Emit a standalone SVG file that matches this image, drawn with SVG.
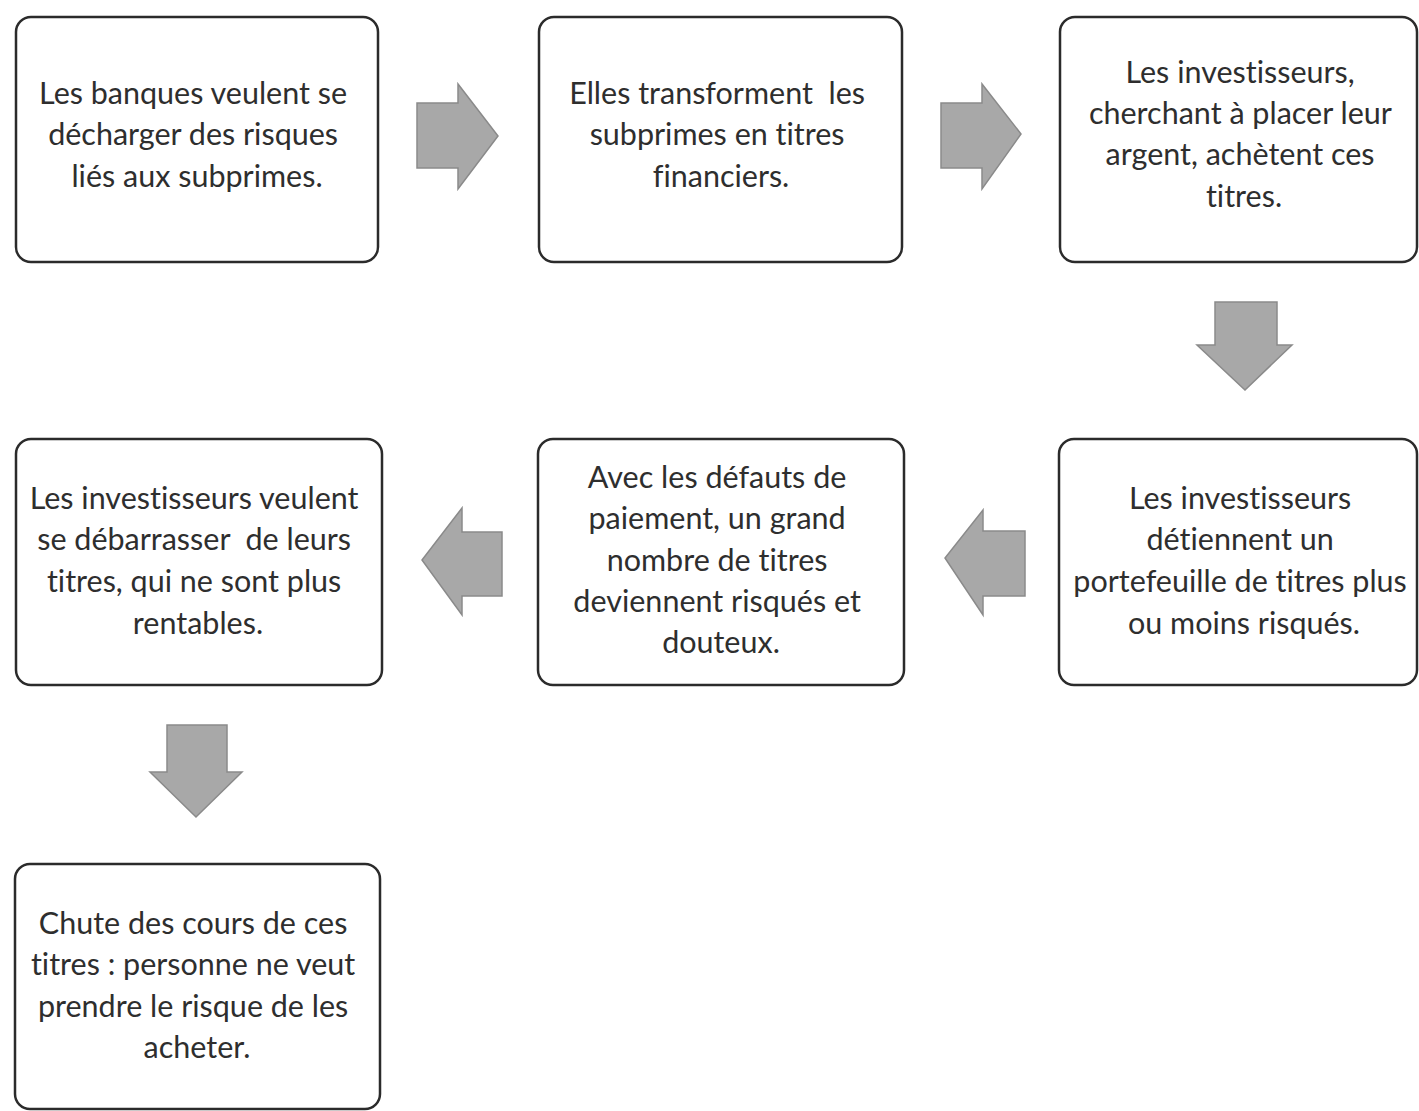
<svg xmlns="http://www.w3.org/2000/svg" width="1419" height="1111" viewBox="0 0 1419 1111">
  <style>
    .box { fill: #ffffff; stroke: #2b2b2b; stroke-width: 2.5; }
    .arrow { fill: #a8a8a8; stroke: #8a8a8a; stroke-width: 1.5; stroke-linejoin: miter; }
    .label { font-family: Lato, "Open Sans", "Liberation Sans", sans-serif; font-size: 30.5px; fill: #2e2e2e; text-anchor: middle; font-variant-ligatures: none; }
  </style>
  <rect width="1419" height="1111" fill="#ffffff"/>

  <!-- flow arrows -->
  <g id="connectors">
    <polygon class="arrow" points="417,103 458,103 458,84 498,136 458,189 458,168 417,168"/>
    <polygon class="arrow" points="941,103 982,103 982,84 1021,134 982,189 982,168 941,168"/>
    <polygon class="arrow" points="1215,302 1277,302 1277,345 1292,345 1245,390 1197,345 1215,345"/>
    <polygon class="arrow" points="1025,531 983,531 983,510 945,558 983,615 983,596 1025,596"/>
    <polygon class="arrow" points="502,532 462,532 462,508 422,560 462,615 462,596 502,596"/>
    <polygon class="arrow" points="167,725 227,725 227,772 242,772 196,817 150,772 167,772"/>
  </g>

  <g id="node1">
    <rect class="box" x="16" y="17" width="362" height="245" rx="15"/>
    <text class="label" x="197">
      <tspan x="197" y="104">Les banques veulent se</tspan>
      <tspan x="197" y="145">décharger des risques</tspan>
      <tspan x="197" y="187">liés aux subprimes.</tspan>
    </text>
  </g>

  <g id="node2">
    <rect class="box" x="539" y="17" width="363" height="245" rx="15"/>
    <text class="label" x="721">
      <tspan x="721" y="104">Elles transforment&#160; les</tspan>
      <tspan x="721" y="145">subprimes en titres</tspan>
      <tspan x="721" y="187">financiers.</tspan>
    </text>
  </g>

  <g id="node3">
    <rect class="box" x="1060" y="17" width="357" height="245" rx="15"/>
    <text class="label" x="1244">
      <tspan x="1244" y="83">Les investisseurs,</tspan>
      <tspan x="1244" y="124">cherchant à placer leur</tspan>
      <tspan x="1244" y="165">argent, achètent ces</tspan>
      <tspan x="1244" y="207">titres.</tspan>
    </text>
  </g>

  <g id="node4">
    <rect class="box" x="1059" y="439" width="358" height="246" rx="15"/>
    <text class="label" x="1244">
      <tspan x="1244" y="509">Les investisseurs</tspan>
      <tspan x="1244" y="550">détiennent un</tspan>
      <tspan x="1244" y="592">portefeuille de titres plus</tspan>
      <tspan x="1244" y="634">ou moins risqués.</tspan>
    </text>
  </g>

  <g id="node5">
    <rect class="box" x="538" y="439" width="366" height="246" rx="15"/>
    <text class="label" x="721">
      <tspan x="721" y="488">Avec les défauts de</tspan>
      <tspan x="721" y="529">paiement, un grand</tspan>
      <tspan x="721" y="571">nombre de titres</tspan>
      <tspan x="721" y="612">deviennent risqués et</tspan>
      <tspan x="721" y="653">douteux.</tspan>
    </text>
  </g>

  <g id="node6">
    <rect class="box" x="16" y="439" width="366" height="246" rx="15"/>
    <text class="label" x="198">
      <tspan x="198" y="509">Les investisseurs veulent</tspan>
      <tspan x="198" y="550">se débarrasser&#160; de leurs</tspan>
      <tspan x="198" y="592">titres, qui ne sont plus</tspan>
      <tspan x="198" y="634">rentables.</tspan>
    </text>
  </g>

  <g id="node7">
    <rect class="box" x="15" y="864" width="365" height="245" rx="15"/>
    <text class="label" x="197">
      <tspan x="197" y="934">Chute des cours de ces</tspan>
      <tspan x="197" y="975">titres : personne ne veut</tspan>
      <tspan x="197" y="1017">prendre le risque de les</tspan>
      <tspan x="197" y="1058">acheter.</tspan>
    </text>
  </g>
</svg>
